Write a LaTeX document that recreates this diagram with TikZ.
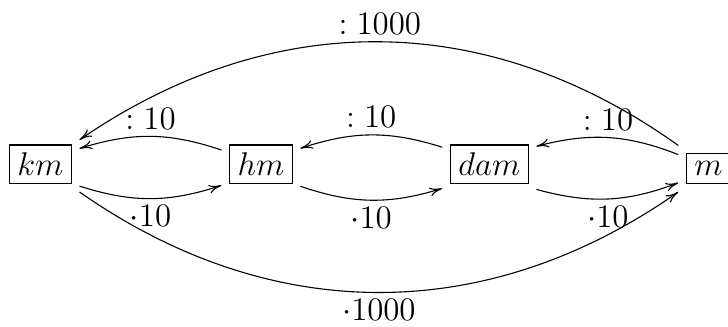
\documentclass[tikz,border=0pt]{standalone}
\usetikzlibrary{positioning,arrows.meta}
\tikzset{
  unit/.style={draw, anchor=base, font=\large, inner sep=2.9pt, outer sep=3pt},
  factor/.style={font=\large, inner sep=2.4pt}
}
\begin{document}
\begin{tikzpicture}[node distance=1.82cm, >={To[length=4.6pt, width=3.2pt]}]
  \useasboundingbox (-0.517,-1.939) rectangle (8.821,2.255);
  \node[unit] (km) at (0,0) {$km$};
  \node[unit, base right=of km] (hm) {$hm$};
  \node[unit, base right=of hm] (dam) {$dam$};
  \node[unit, base right=of dam] (m) {$m$};
  % one step
  \draw[->] (km.-29) to[bend right=18] node[factor, below] {$\cdot10$} (hm.208);
  \draw[->] (hm.160) to[bend right=18] node[factor, above] {$:10$} (km.22);
  \draw[->] (hm.-29) to[bend right=18] node[factor, below] {$\cdot10$} (dam.207);
  \draw[->] (dam.160) to[bend right=18] node[factor, above] {$:10$} (hm.22);
  \draw[->] (dam.-28) to[bend right=18] node[factor, below] {$\cdot10$} (m.205);
  \draw[->] (m.155) to[bend right=18] node[factor, above] {$:10$} (dam.21);
  % km <-> m
  \draw[->] (km.south east) to[bend right=35] node[factor, below] {$\cdot1000$} (m.south west);
  \draw[->] (m.north west) to[bend right=35] node[factor, above] {$:1000$} (km.32);
\end{tikzpicture}
\end{document}
